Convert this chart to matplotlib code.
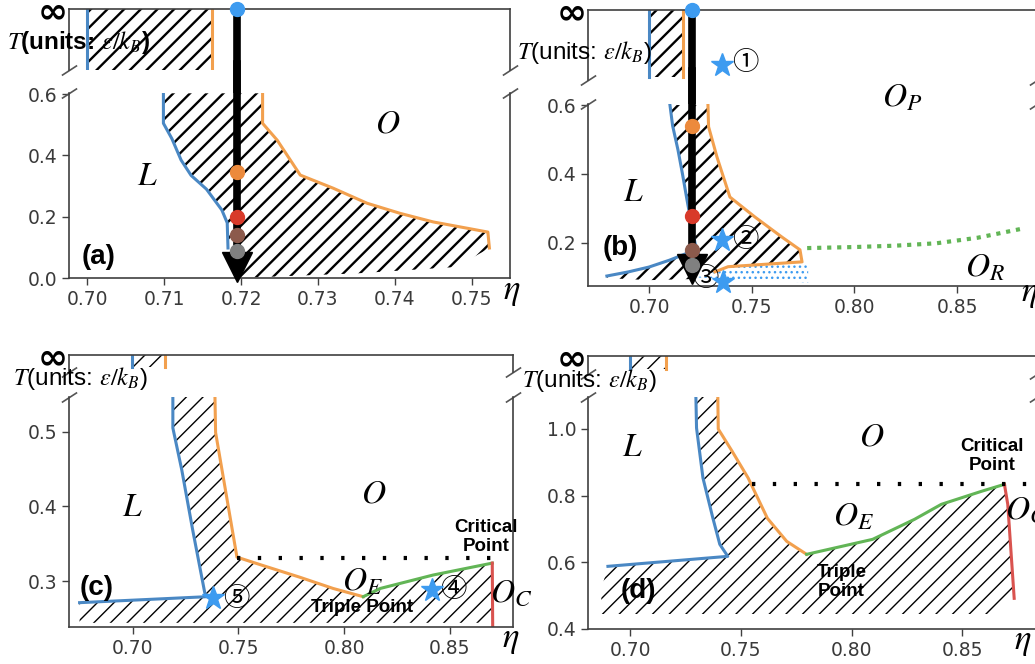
import matplotlib
matplotlib.use('Agg')
import matplotlib.pyplot as plt

plt.rcParams['mathtext.fontset'] = 'stix'
plt.rcParams['hatch.linewidth'] = 1.3

W, H = 1035, 664

# ------------------------------------------------------------------ data
# colours of the dots along the cooling path (top -> bottom)
path_dot_colors = ['#3d9bf0', '#ec8a3c', '#d83a2a', '#8c5a4c', '#808080']

# ---- panel (a)
a_blue_eta = [0.7099, 0.7099, 0.7110, 0.7122, 0.7135, 0.7155, 0.7175, 0.7182, 0.7183]
a_blue_T = [0.603, 0.505, 0.455, 0.385, 0.335, 0.290, 0.222, 0.180, 0.098]
a_orange_eta = [0.7228, 0.7228, 0.7247, 0.7277, 0.7320, 0.7364, 0.7407, 0.7450, 0.7521, 0.7523]
a_orange_T = [0.603, 0.505, 0.450, 0.336, 0.293, 0.244, 0.211, 0.183, 0.150, 0.098]
a_bottom_eta = [0.7195, 0.7350, 0.7480]
a_bottom_T = [0.000, 0.015, 0.036]
a_inf_eta = [0.7000, 0.7162]          # blue / orange boundary at T = infinity
a_path_eta = 0.7195
a_path_T = [0.700, 0.036]             # continues up to infinity
a_dot_T = [0.346, 0.200, 0.140, 0.088]

# ---- panel (b)
b_blue_eta = [0.7102, 0.7115, 0.7141, 0.7163, 0.7185, 0.7205, 0.7224, 0.7239]
b_blue_T = [0.600, 0.540, 0.470, 0.400, 0.325, 0.260, 0.200, 0.171]
b_blue_low_eta = [0.6795, 0.6900, 0.7000, 0.7100, 0.7176]
b_blue_low_T = [0.104, 0.116, 0.130, 0.150, 0.168]
b_orange_eta = [0.7287, 0.7290, 0.7331, 0.7394, 0.7516, 0.7647, 0.7735, 0.7745, 0.7385, 0.7321]
b_orange_T = [0.600, 0.537, 0.449, 0.333, 0.275, 0.217, 0.180, 0.145, 0.131, 0.116]
b_dots_eta = [0.7224, 0.7321, 0.7385, 0.7745, 0.7775, 0.7775]
b_dots_T = [0.100, 0.116, 0.131, 0.145, 0.140, 0.085]
b_green_eta = [0.7770, 0.8000, 0.8200, 0.8400, 0.8600, 0.8806]
b_green_T = [0.185, 0.188, 0.192, 0.199, 0.215, 0.240]
b_inf_eta = [0.7000, 0.7166]
b_path_eta = 0.7208
b_path_T = [0.700, 0.125]
b_dot_T = [0.539, 0.278, 0.180, 0.136]
b_star_eta = [0.7355, 0.7355, 0.7360]
b_star_T = [0.209, 0.087]
b_star_inf = 0.21                      # star 1 inside the T = infinity box

# ---- panel (c)
c_blue_eta = [0.7190, 0.7190, 0.7232, 0.7284, 0.7341, 0.7350, 0.6749]
c_blue_T = [0.547, 0.505, 0.449, 0.368, 0.284, 0.279, 0.271]
c_orange_eta = [0.7389, 0.7392, 0.7493, 0.7602, 0.7791, 0.7948, 0.8090]
c_orange_T = [0.547, 0.499, 0.332, 0.322, 0.305, 0.290, 0.279]
c_green_eta = [0.8090, 0.8170, 0.8420, 0.8700]
c_green_T = [0.279, 0.290, 0.308, 0.324]
c_red_eta = [0.8700, 0.8702]
c_red_T = [0.324, 0.238]
c_dot_eta = [0.7493, 0.8740]
c_dot_T = [0.331, 0.331]
c_bottom_eta = [0.6749, 0.6749, 0.8700]
c_bottom_T = [0.271, 0.244, 0.244]
c_inf_eta = [0.6995, 0.7152]
c_star_eta = [0.7379, 0.8417]
c_star_T = [0.277, 0.288]

# ---- panel (d)
d_blue_eta = [0.7297, 0.7300, 0.7329, 0.7374, 0.7405, 0.7441, 0.6900]
d_blue_T = [1.099, 1.003, 0.853, 0.732, 0.654, 0.618, 0.588]
d_orange_eta = [0.7396, 0.7398, 0.7460, 0.7533, 0.7620, 0.7707, 0.7797]
d_orange_T = [1.099, 1.000, 0.934, 0.853, 0.732, 0.663, 0.624]
d_green_eta = [0.7797, 0.8095, 0.8284, 0.8405, 0.8586, 0.8690]
d_green_T = [0.624, 0.669, 0.729, 0.774, 0.813, 0.834]
d_red_eta = [0.8690, 0.8705, 0.8734]
d_red_T = [0.834, 0.774, 0.492]
d_dot_eta = [0.7550, 0.8840]
d_dot_T = [0.835, 0.835]
d_bottom_eta = [0.6900, 0.6870, 0.6870, 0.8660, 0.8734]
d_bottom_T = [0.588, 0.520, 0.445, 0.445, 0.492]
d_inf_eta = [0.7000, 0.7160]

BLUE = '#4a88c4'
ORANGE = '#f2a04e'
GREEN = '#62b556'
RED = '#d9534f'
STAR = '#3d9bf0'
SANS = ['Liberation Sans', 'DejaVu Sans']
CIRC = ['Noto Sans CJK SC', 'DejaVu Sans']

fig = plt.figure(figsize=(W / 100, H / 100), dpi=100)


def px_rect(x0, y0, x1, y1):
    return [x0 / W, 1 - y1 / H, (x1 - x0) / W, (y1 - y0) / H]


def make_pair(top_px, main_px, xlim, ylim, xticks, yticks, eta_px):
    axt = fig.add_axes(px_rect(*top_px))
    axm = fig.add_axes(px_rect(*main_px))
    for ax in (axt, axm):
        ax.set_xlim(xlim)
        for s in ax.spines.values():
            s.set_color('#404040')
            s.set_linewidth(1.2)
        ax.tick_params(colors='#404040', labelcolor='#3a3a3a', labelsize=13.5,
                       length=5, width=1)
    axt.set_ylim(0, 1)
    axm.set_ylim(ylim)
    axt.spines['bottom'].set_visible(False)
    axm.spines['top'].set_visible(False)
    axt.set_xticks([])
    axt.set_yticks([1])
    axt.set_yticklabels(['∞'])
    for lab in axt.get_yticklabels():
        lab.set_fontsize(26)
        lab.set_fontweight('bold')
        lab.set_color('black')
    axt.tick_params(axis='y', length=0, pad=1)
    axm.set_xticks(xticks)
    axm.set_xticklabels([f'{v:.2f}' for v in xticks])
    axm.set_yticks(yticks)
    axm.set_yticklabels([f'{v:.1f}' for v in yticks])
    kw = dict(marker=[(-1, -0.65), (1, 0.65)], markersize=11, linestyle='none',
              color='#555555', mec='#555555', mew=1.2, clip_on=False)
    axt.plot([0, 1], [0, 0], transform=axt.transAxes, **kw)
    axm.plot([0, 1], [1, 1], transform=axm.transAxes, **kw)
    fig.text(eta_px[0] / W, 1 - eta_px[1] / H, '$\\eta$', fontsize=25,
             ha='center', va='center')
    return axt, axm


def hatch_fill(ax, x, y, pattern='//', color='black', lw=1.3):
    with plt.rc_context({'hatch.linewidth': lw}):
        ax.fill(x, y, facecolor='none', edgecolor=color, linewidth=0, hatch=pattern)


def inf_box(ax, etas, y0=0.0, lw=1.3):
    with plt.rc_context({'hatch.linewidth': lw}):
        ax.fill([etas[0], etas[1], etas[1], etas[0]], [y0, y0, 1, 1], facecolor='none',
                edgecolor='black', linewidth=0, hatch='//')
    ax.plot([etas[0], etas[0]], [y0, 1], color=BLUE, lw=2.2)
    ax.plot([etas[1], etas[1]], [y0, 1], color=ORANGE, lw=2.2)


def cooling_path(axt, axm, eta, T, dot_T):
    axt.plot([eta, eta], [1, -0.6], color='black', lw=5.5, clip_on=False, zorder=5)
    axt.plot([eta], [1], 'o', color=path_dot_colors[0], ms=10, clip_on=False, zorder=6)
    axm.plot([eta, eta], T, color='black', lw=5.5, clip_on=False, zorder=5)
    axm.plot([eta], [T[1]], marker='v', color='black', ms=22, clip_on=False, zorder=5)
    for t, c in zip(dot_T, path_dot_colors[1:]):
        axm.plot([eta], [t], 'o', color=c, ms=10, zorder=6, clip_on=False)


def ylabel(x, y, bold=False):
    fig.text(x / W, 1 - y / H, '$T$(units: $\\epsilon/k_B$)', fontsize=17.5,
             family=SANS, fontweight='bold' if bold else 'normal',
             ha='left', va='center')


def math_label(ax, x, y, s, size=24):
    ax.text(x, y, s, fontsize=size, ha='center', va='center', clip_on=False)


def panel_tag(ax, x, y, s):
    ax.text(x, y, s, fontsize=20, fontweight='bold', family=SANS, ha='center', va='center')


def note(ax, x, y, s):
    ax.text(x, y, s, fontsize=13.5, fontweight='bold', family=SANS,
            ha='center', va='center', linespacing=1.15)


def circ(ax, x, y, s):
    ax.text(x, y, s, fontsize=19, family=CIRC, ha='center', va='center')


# ------------------------------------------------------------------ panel (a)
at, am = make_pair((69, 9, 510, 70), (69, 93, 510, 278), (0.69762, 0.75498), (0, 0.604),
                   [0.70, 0.71, 0.72, 0.73, 0.74, 0.75], [0.0, 0.2, 0.4, 0.6], (512, 291))
inf_box(at, a_inf_eta, lw=1.7)
poly_x = a_blue_eta + a_bottom_eta + a_orange_eta[::-1]
poly_y = a_blue_T + a_bottom_T + a_orange_T[::-1]
hatch_fill(am, poly_x, poly_y, lw=1.7)
am.plot(a_blue_eta, a_blue_T, color=BLUE, lw=2.2)
am.plot(a_orange_eta, a_orange_T, color=ORANGE, lw=2.2)
cooling_path(at, am, a_path_eta, a_path_T, a_dot_T)
math_label(am, 0.7078, 0.336, '$L$')
math_label(am, 0.7391, 0.505, '$O$')
panel_tag(am, 0.7015, 0.068, '(a)')
ylabel(7, 43, bold=True)

# ------------------------------------------------------------------ panel (b)
bt, bm = make_pair((588, 10, 1037, 80), (588, 104, 1037, 286), (0.6703, 0.8889), (0.075, 0.603),
                   [0.70, 0.75, 0.80, 0.85], [0.2, 0.4, 0.6], (1030, 293))
inf_box(bt, b_inf_eta, y0=0.05, lw=1.7)
hatch_fill(bm, b_blue_eta[:-1] + b_blue_low_eta[::-1] + [0.6795, 0.7000, 0.7200] + b_orange_eta[::-1],
           b_blue_T[:-1] + b_blue_low_T[::-1] + [0.098, 0.092, 0.095] + b_orange_T[::-1], lw=1.7)
hatch_fill(bm, b_dots_eta, b_dots_T, pattern='...', color=STAR, lw=1.0)
bm.plot(b_blue_eta, b_blue_T, color=BLUE, lw=2.2)
bm.plot(b_blue_low_eta, b_blue_low_T, color=BLUE, lw=2.2)
bm.plot(b_orange_eta, b_orange_T, color=ORANGE, lw=2.2)
bm.plot(b_green_eta, b_green_T, color=GREEN, lw=3, linestyle=(0, (1, 1.4)))
cooling_path(bt, bm, b_path_eta, b_path_T, b_dot_T)
bt.plot([b_star_eta[0]], [b_star_inf], '*', color=STAR, ms=17, zorder=7)
circ(bt, 0.7467, b_star_inf + 0.04, '①')
bm.plot(b_star_eta[1:], b_star_T, '*', color=STAR, ms=17, zorder=7, clip_on=False)
circ(bm, 0.7467, 0.209, '②')
circ(bm, 0.7273, 0.097, '③')
math_label(bm, 0.6922, 0.348, '$L$')
math_label(bm, 0.823, 0.623, '$O_P$')
math_label(bm, 0.8636, 0.130, '$O_R$')
panel_tag(bm, 0.6859, 0.186, '(b)')
ylabel(517, 52)

# ------------------------------------------------------------------ panel (c)
ct, cm = make_pair((69, 355, 513, 372), (69, 397, 513, 627), (0.6699, 0.8798), (0.2384, 0.5465),
                   [0.70, 0.75, 0.80, 0.85], [0.3, 0.4, 0.5], (511, 639))
inf_box(ct, c_inf_eta, y0=0.3, lw=1.0)
hatch_fill(cm, c_blue_eta + c_bottom_eta[1:] + c_red_eta[::-1] + c_green_eta[::-1] + c_orange_eta[::-1],
           c_blue_T + c_bottom_T[1:] + c_red_T[::-1] + c_green_T[::-1] + c_orange_T[::-1], lw=1.0)
cm.plot(c_blue_eta, c_blue_T, color=BLUE, lw=2.2)
cm.plot(c_orange_eta, c_orange_T, color=ORANGE, lw=2.2)
cm.plot(c_green_eta, c_green_T, color=GREEN, lw=2.2)
cm.plot(c_red_eta, c_red_T, color=RED, lw=2.2)
cm.plot(c_dot_eta, c_dot_T, color='black', lw=3, linestyle=(0, (0.8, 4.2)))
cm.plot(c_star_eta, c_star_T, '*', color=STAR, ms=17, zorder=7)
circ(cm, 0.7490, 0.276, '⑤')
circ(cm, 0.8517, 0.288, '④')
math_label(cm, 0.7000, 0.400, '$L$')
math_label(cm, 0.8137, 0.418, '$O$')
math_label(cm, 0.8085, 0.300, '$O_E$')
math_label(cm, 0.8790, 0.285, '$O_C$')
note(cm, 0.8670, 0.359, 'Critical\nPoint')
note(cm, 0.8085, 0.264, 'Triple Point')
panel_tag(cm, 0.6830, 0.290, '(c)')
ylabel(13, 379)

# ------------------------------------------------------------------ panel (d)
dt, dm = make_pair((588, 356, 1037, 374), (588, 397, 1037, 629), (0.6810, 0.8837), (0.4, 1.096),
                   [0.70, 0.75, 0.80, 0.85], [0.4, 0.6, 0.8, 1.0], (1023, 641))
inf_box(dt, d_inf_eta, y0=0.3, lw=1.0)
hatch_fill(dm, d_blue_eta + d_bottom_eta[1:] + d_red_eta[::-1] + d_green_eta[::-1] + d_orange_eta[::-1],
           d_blue_T + d_bottom_T[1:] + d_red_T[::-1] + d_green_T[::-1] + d_orange_T[::-1], lw=1.0)
dm.plot(d_blue_eta, d_blue_T, color=BLUE, lw=2.2)
dm.plot(d_orange_eta, d_orange_T, color=ORANGE, lw=2.2)
dm.plot(d_green_eta, d_green_T, color=GREEN, lw=2.2)
dm.plot(d_red_eta, d_red_T, color=RED, lw=2.2)
dm.plot(d_dot_eta, d_dot_T, color='black', lw=3, linestyle=(0, (0.8, 4.2)), clip_on=False)
math_label(dm, 0.7010, 0.949, '$L$')
math_label(dm, 0.8090, 0.979, '$O$')
math_label(dm, 0.8010, 0.738, '$O_E$')
math_label(dm, 0.8790, 0.760, '$O_C$')
note(dm, 0.8635, 0.918, 'Critical\nPoint')
note(dm, 0.7955, 0.540, 'Triple\nPoint')
panel_tag(dm, 0.7036, 0.513, '(d)')
ylabel(522, 380)

fig.savefig('out.png', dpi=100)
